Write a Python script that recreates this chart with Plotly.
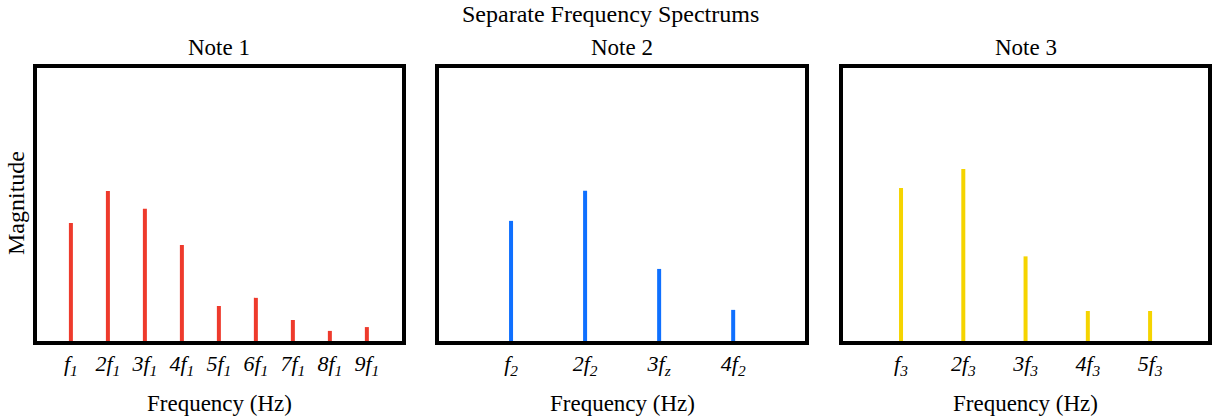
import plotly.graph_objects as go

W, H = 1212, 416

# ---- data ----
note1_harmonics = [1, 2, 3, 4, 5, 6, 7, 8, 9]
note1_mag = [4.32, 5.49, 4.84, 3.52, 1.28, 1.58, 0.77, 0.37, 0.51]
note1_labels = ["f<sub>1</sub>", "2f<sub>1</sub>", "3f<sub>1</sub>", "4f<sub>1</sub>", "5f<sub>1</sub>",
                "6f<sub>1</sub>", "7f<sub>1</sub>", "8f<sub>1</sub>", "9f<sub>1</sub>"]

note2_harmonics = [1, 2, 3, 4]
note2_mag = [4.40, 5.50, 2.64, 1.14]
note2_labels = ["f<sub>2</sub>", "2f<sub>2</sub>", "3f<sub>z</sub>", "4f<sub>2</sub>"]

note3_harmonics = [1, 2, 3, 4, 5]
note3_mag = [5.60, 6.30, 3.10, 1.10, 1.10]
note3_labels = ["f<sub>3</sub>", "2f<sub>3</sub>", "3f<sub>3</sub>", "4f<sub>3</sub>", "5f<sub>3</sub>"]

titles = ["Note 1", "Note 2", "Note 3"]
colors = ["#EE3A2C", "#0F70FF", "#F5D400"]

FONT = "Liberation Serif, Times New Roman, serif"

panels = [
    (note1_harmonics, note1_mag, note1_labels, (36.5, 402), [0.07, 9.95]),
    (note2_harmonics, note2_mag, note2_labels, (439, 805), [0.027, 4.97]),
    (note3_harmonics, note3_mag, note3_labels, (843, 1208), [0.068, 5.93]),
]
y_top, y_bot = 68, 341

fig = go.Figure()
layout = dict(
    width=W, height=H,
    margin=dict(l=0, r=0, t=0, b=0),
    paper_bgcolor="white", plot_bgcolor="white",
    showlegend=False,
    font=dict(family=FONT, color="black"),
)
annotations = []
for i, (hx, mag, labs, (x0, x1), xr) in enumerate(panels):
    xs, ys = [], []
    for h, m in zip(hx, mag):
        xs += [h, h, None]
        ys += [0, m, None]
    sfx = "" if i == 0 else str(i + 1)
    fig.add_trace(go.Scatter(x=xs, y=ys, mode="lines",
                             line=dict(color=colors[i], width=4),
                             xaxis="x" + sfx, yaxis="y" + sfx,
                             hoverinfo="skip"))
    layout["xaxis" + sfx] = dict(
        domain=[x0 / W, x1 / W], range=xr, anchor="y" + sfx,
        showline=True, linewidth=4, linecolor="black", mirror=True,
        showgrid=False, zeroline=False, ticks="",
        tickvals=hx, ticktext=["<i>" + t + "</i>" for t in labs],
        tickfont=dict(family=FONT, size=22, color="black"),
        fixedrange=True,
    )
    layout["yaxis" + sfx] = dict(
        domain=[1 - y_bot / H, 1 - y_top / H], range=[0, 10], anchor="x" + sfx,
        showline=True, linewidth=4, linecolor="black", mirror=True,
        showgrid=False, zeroline=False, showticklabels=False, ticks="",
        fixedrange=True,
    )
    cx = (x0 + x1) / 2 / W
    annotations.append(dict(text=titles[i], x=cx, y=1 - 47 / H, xref="paper", yref="paper",
                            showarrow=False, font=dict(family=FONT, size=23, color="black"),
                            xanchor="center", yanchor="middle"))
    annotations.append(dict(text="Frequency (Hz)", x=cx, y=1 - 403 / H, xref="paper", yref="paper",
                            showarrow=False, font=dict(family=FONT, size=23, color="black"),
                            xanchor="center", yanchor="middle"))

annotations.append(dict(text="Separate Frequency Spectrums", x=610 / W, y=1 - 14 / H,
                        xref="paper", yref="paper", showarrow=False,
                        font=dict(family=FONT, size=24, color="black"),
                        xanchor="center", yanchor="middle"))
annotations.append(dict(text="Magnitude", x=16 / W, y=1 - 203 / H, xref="paper", yref="paper",
                        showarrow=False, textangle=-90,
                        font=dict(family=FONT, size=24, color="black"),
                        xanchor="center", yanchor="middle"))
layout["annotations"] = annotations
fig.update_layout(**layout)
fig.write_html("out.html")
